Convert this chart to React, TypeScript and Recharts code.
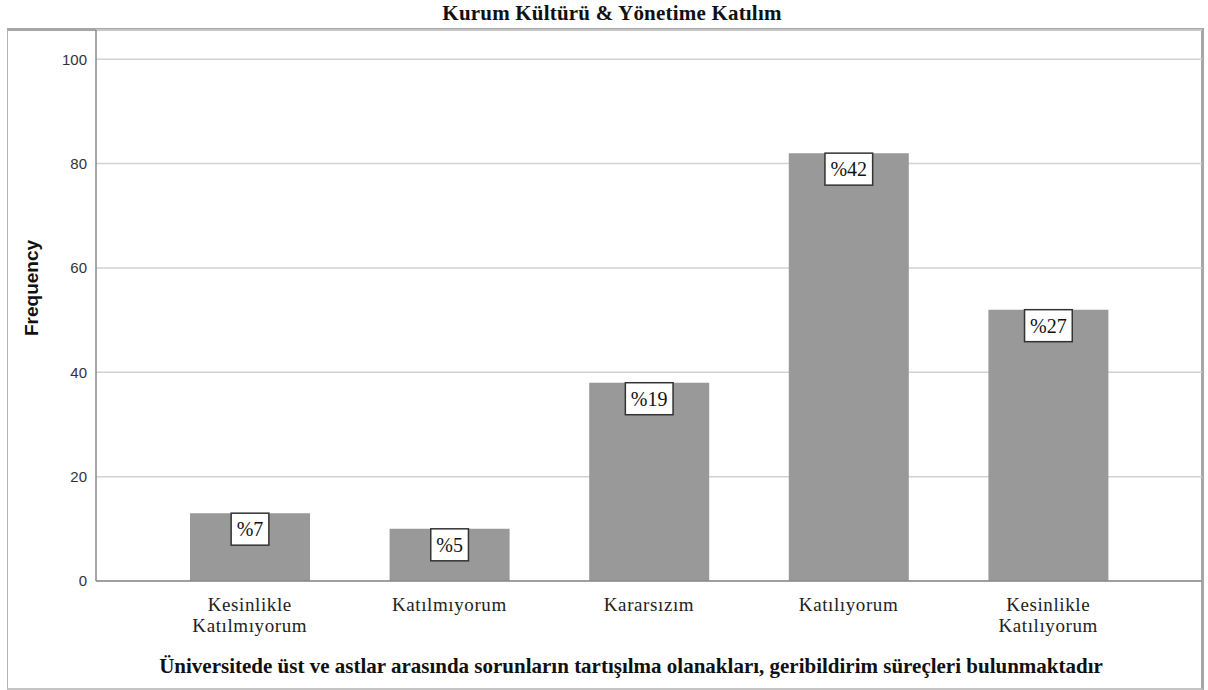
import React from "react";
import { BarChart, Bar, XAxis, YAxis, CartesianGrid, LabelList } from "recharts";

const categories = ["Kesinlikle\nKatılmıyorum", "Katılmıyorum", "Kararsızım", "Katılıyorum", "Kesinlikle\nKatılıyorum"];
const frequencies = [13, 10, 38, 82, 52];
const percentLabels = ["%7", "%5", "%19", "%42", "%27"];
const yTicks = [0, 20, 40, 60, 80, 100];

const title = "Kurum Kültürü & Yönetime Katılım";
const xTitle = "Üniversitede üst ve astlar arasında sorunların tartışılma olanakları, geribildirim süreçleri bulunmaktadır";
const yTitle = "Frequency";

const SERIF = "'Liberation Serif', 'Times New Roman', serif";
const SANS = "'Liberation Sans', Arial, sans-serif";

const rows = categories.map((c, i) => ({ cat: c, freq: frequencies[i], pct: percentLabels[i] }));

function CategoryTick(props: any) {
  const { x, y, payload } = props;
  const lines = String(payload.value).split("\n");
  return (
    <text x={x} y={y} textAnchor="middle" fontFamily={SERIF} fontSize={19} fill="#222" letterSpacing={0.6}>
      {lines.map((l, i) => (
        <tspan key={i} x={x} dy={i === 0 ? 30 : 21}>
          {l}
        </tspan>
      ))}
    </text>
  );
}

// kutucuklu yüzde etiketi (barın üst kenarına yapışık)
function PctLabel(props: any) {
  const { x, y, width, value } = props;
  const s = String(value);
  const w = 11 + 16.7 + (s.length - 1) * 10;
  const cx = x + width / 2;
  return (
    <g>
      <rect x={cx - w / 2} y={y} width={w} height={32} fill="#fff" stroke="#333" strokeWidth={1.5} />
      <text x={cx} y={y + 23} textAnchor="middle" fontFamily={SERIF} fontSize={20} fill="#111">
        {s}
      </text>
    </g>
  );
}

export default function App() {
  return (
    <div style={{ position: "absolute", left: 0, top: 0, width: 1208, height: 690, background: "#fff", overflow: "hidden" }}>
      <div
        style={{
          position: "absolute",
          left: 7,
          top: 28,
          width: 1193,
          height: 657,
          borderTop: "3px solid #a6a6a6",
          borderRight: "3px solid #a6a6a6",
          borderLeft: "1px solid #b4b4b4",
          borderBottom: "2px solid #c4c4c4",
        }}
      />
      <div
        style={{
          position: "absolute",
          left: 0,
          width: 1224,
          top: 1,
          textAlign: "center",
          fontFamily: SERIF,
          fontWeight: 700,
          fontSize: 21,
          letterSpacing: 0.2,
          color: "#111",
        }}
      >
        {title}
      </div>
      <div style={{ position: "absolute", left: 0, top: 0 }}>
        <BarChart width={1208} height={690} data={rows} margin={{ top: 30, right: 6, bottom: 49, left: 36 }}>
          <CartesianGrid vertical={false} stroke="#d2d2d2" strokeWidth={1.5} />
          <XAxis
            dataKey="cat"
            interval={0}
            tick={<CategoryTick />}
            tickLine={false}
            tickSize={0}
            tickMargin={0}
            height={60}
            padding={{ left: 54, right: 54 }}
            axisLine={{ stroke: "#8a8a8a", strokeWidth: 1.5 }}
          />
          <YAxis
            width={60}
            domain={[0, 105.6]}
            ticks={yTicks}
            tickLine={false}
            tickSize={0}
            tickMargin={9}
            axisLine={{ stroke: "#8a8a8a", strokeWidth: 1.5 }}
            tick={{ fontFamily: SANS, fontSize: 15, fill: "#333" }}
          />
          <Bar dataKey="freq" fill="#999999" barSize={120} isAnimationActive={false}>
            <LabelList dataKey="pct" content={<PctLabel />} />
          </Bar>
        </BarChart>
      </div>
      <div
        style={{
          position: "absolute",
          left: 32,
          top: 288,
          transform: "translate(-50%, -50%) rotate(-90deg)",
          fontFamily: SANS,
          fontWeight: 700,
          fontSize: 19,
          color: "#111",
          whiteSpace: "nowrap",
        }}
      >
        {yTitle}
      </div>
      <div
        style={{
          position: "absolute",
          left: 631,
          top: 654,
          transform: "translateX(-50%)",
          fontFamily: SERIF,
          fontWeight: 700,
          fontSize: 21,
          color: "#111",
          whiteSpace: "nowrap",
        }}
      >
        {xTitle}
      </div>
    </div>
  );
}
